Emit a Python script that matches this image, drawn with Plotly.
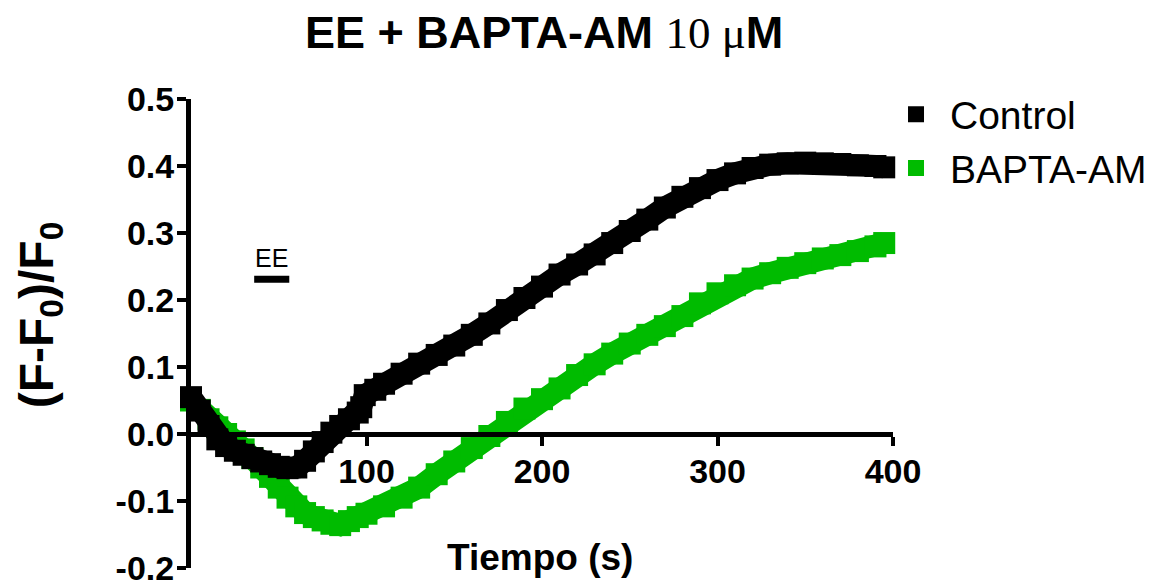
import plotly.graph_objects as go

# ---- data ----
control_t = [0, 5, 10, 15, 20, 25, 30, 35, 40, 45, 50, 55, 60, 65, 70, 75, 80, 85, 90, 95, 97, 99,
             105, 110, 120, 130, 140, 150, 160, 170, 180, 190, 200, 210, 220, 230, 240, 250, 260,
             270, 280, 290, 300, 310, 320, 330, 340, 350, 360, 370, 380, 390, 395]
control_y = [0.055, 0.035, 0.012, -0.008, -0.018, -0.025, -0.031, -0.036, -0.041, -0.045, -0.049,
             -0.051, -0.050, -0.040, -0.026, -0.012, 0.002, 0.012, 0.022, 0.032, 0.040, 0.058,
             0.066, 0.075, 0.090, 0.105, 0.118, 0.132, 0.148, 0.165, 0.185, 0.203, 0.220, 0.238,
             0.253, 0.268, 0.285, 0.303, 0.320, 0.338, 0.354, 0.367, 0.379, 0.389, 0.397, 0.402,
             0.404, 0.405, 0.404, 0.403, 0.401, 0.400, 0.398]

bapta_t = [0, 5, 10, 15, 20, 25, 30, 35, 40, 45, 50, 55, 60, 65, 70, 75, 80, 85, 90, 95, 100,
           110, 120, 130, 140, 150, 160, 170, 180, 190, 200, 210, 220, 230, 240, 250, 260, 270,
           280, 290, 300, 310, 320, 330, 340, 350, 360, 370, 380, 390, 395]
bapta_y = [0.050, 0.036, 0.022, 0.010, 0.000, -0.011, -0.023, -0.036, -0.050, -0.064, -0.080,
           -0.095, -0.108, -0.118, -0.124, -0.129, -0.134, -0.136, -0.130, -0.124, -0.119,
           -0.108, -0.095, -0.080, -0.060, -0.041, -0.021, -0.003, 0.018, 0.038, 0.052, 0.068,
           0.088, 0.104, 0.120, 0.135, 0.148, 0.161, 0.176, 0.195, 0.210, 0.222, 0.232, 0.240,
           0.248, 0.255, 0.262, 0.267, 0.273, 0.280, 0.285]

series_names = ["Control", "BAPTA-AM"]
series_colors = ["#000000", "#00BB00"]

x_ticks = [100, 200, 300, 400]
y_ticks = [-0.2, -0.1, 0.0, 0.1, 0.2, 0.3, 0.4, 0.5]

ee_bar_t = [36, 56]
ee_bar_y = 0.231
ee_label_t = 46
ee_label_y = 0.262

FONT = "Liberation Sans, Arial, sans-serif"
BAND = 22

fig = go.Figure()

# data traces (green under black)
for t, y, c in [(bapta_t, bapta_y, series_colors[1]), (control_t, control_y, series_colors[0])]:
    fig.add_trace(go.Scatter(
        x=t, y=y, mode="lines+markers",
        line=dict(color=c, width=BAND),
        marker=dict(symbol="square", size=BAND, color=c, line=dict(width=0)),
        showlegend=False, cliponaxis=False, hoverinfo="skip"))

# legend entries (square only)
for name, c in zip(series_names, series_colors):
    fig.add_trace(go.Scatter(
        x=[None], y=[None], mode="markers", name=name,
        marker=dict(symbol="square", size=18, color=c)))

# EE stimulus bar
fig.add_shape(type="line", x0=ee_bar_t[0], x1=ee_bar_t[1], y0=ee_bar_y, y1=ee_bar_y,
              xref="x", yref="y", line=dict(color="black", width=7))
fig.add_annotation(x=ee_label_t, y=ee_label_y, xref="x", yref="y", text="EE",
                   showarrow=False, font=dict(family=FONT, size=25, color="black"))

# titles
fig.add_annotation(
    x=0.503, y=1.141, xref="paper", yref="paper", xanchor="center", yanchor="middle",
    showarrow=False,
    text="<b>EE + BAPTA-AM </b><span style='font-family:Liberation Serif, Times New Roman, serif'>10 μ</span><b>M</b>",
    font=dict(family=FONT, size=45, color="black"))
fig.add_annotation(
    x=0.497, y=0.023, xref="paper", yref="paper", xanchor="center", yanchor="middle",
    showarrow=False,
    text="<b>Tiempo (s)</b>", font=dict(family=FONT, size=37, color="black"))
fig.add_annotation(
    x=-0.215, y=0.539, xref="paper", yref="paper", xanchor="center", yanchor="middle",
    showarrow=False, textangle=-90,
    text="<b>(F-F<sub>0</sub>)/F<sub>0</sub></b>", font=dict(family=FONT, size=48, color="black"))

fig.update_layout(
    width=1151, height=584,
    margin=dict(l=191, r=258, t=99, b=16, autoexpand=False),
    paper_bgcolor="white", plot_bgcolor="white",
    font=dict(family=FONT, color="black"),
    showlegend=True,
    legend=dict(x=0.7663, y=0.859, xref="container", yref="container",
                xanchor="left", yanchor="top",
                font=dict(family=FONT, size=39, color="black"),
                bgcolor="rgba(0,0,0,0)", itemsizing="trace", itemwidth=58),
    xaxis=dict(range=[0, 400], tickvals=x_ticks, ticktext=[str(v) for v in x_ticks],
               showgrid=False, zeroline=False, showline=True, linecolor="black", linewidth=5,
               ticks="outside", ticklen=9, tickwidth=4, tickcolor="black",
               anchor="free", position=0.2857, ticklabelstandoff=-4,
               tickfont=dict(family=FONT, size=34, color="black", weight="bold")),
    yaxis=dict(range=[-0.2, 0.5], tickvals=y_ticks, ticktext=[f"{v:.1f}" for v in y_ticks],
               showgrid=False, zeroline=False, showline=True, linecolor="black", linewidth=5,
               ticks="outside", ticklen=9, tickwidth=4, tickcolor="black",
               ticklabelstandoff=-4, ticklabeloverflow="allow",
               tickfont=dict(family=FONT, size=34, color="black", weight="bold")),
)

fig.write_html("out.html")
